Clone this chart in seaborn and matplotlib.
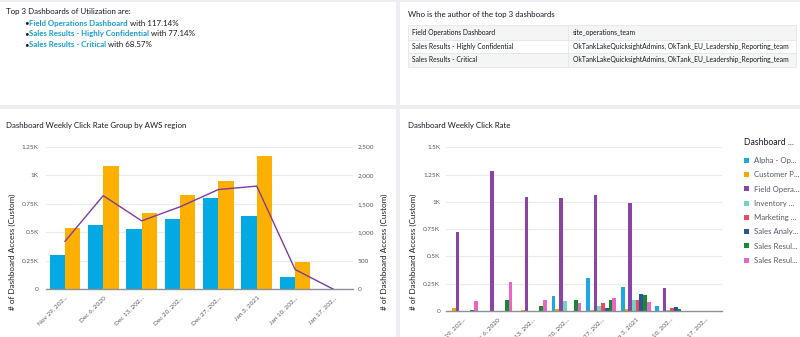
import numpy as np
import pandas as pd
import matplotlib
matplotlib.use("Agg")
import matplotlib.pyplot as plt
from matplotlib.patches import Rectangle
from matplotlib.ticker import FixedLocator
import seaborn as sns

# ---------------------------------------------------------------- data
weeks = ["Nov 29, 202...", "Dec 6, 2020", "Dec 13, 202...", "Dec 20, 202...",
         "Dec 27, 202...", "Jan 3, 2021", "Jan 10, 202...", "Jan 17, 202..."]

# weekly clicks per AWS region (left axis) and combined total (right axis)
region_names = ["us-east-1", "eu-west-1"]
region_east = [300, 561, 529, 619, 800, 640, 105, 0]
region_west = [540, 1081, 671, 827, 949, 1169, 242, 0]
region_total = [840, 1642, 1200, 1446, 1749, 1809, 347, 0]

# weekly clicks per dashboard
dashboard_names = ["Alpha - Operations", "Customer Portal", "Field Operations Dashboard",
                   "Inventory Tracking", "Marketing Overview", "Sales Analytics",
                   "Sales Results - Highly Confidential", "Sales Results - Critical"]
dashboard_labels = ["Alpha - Op...", "Customer P...", "Field Opera...", "Inventory ...",
                    "Marketing ...", "Sales Analy...", "Sales Resul...", "Sales Resul..."]
alpha_ops = [0, 0, 0, 134, 302, 221, 43, 0]
customer_portal = [28, 0, 9, 15, 9, 19, 0, 0]
field_ops = [721, 1280, 1045, 1035, 1063, 990, 215, 0]
inventory = [0, 0, 0, 89, 46, 101, 6, 0]
marketing = [0, 0, 0, 0, 70, 101, 28, 0]
sales_analytics = [0, 0, 0, 0, 31, 157, 33, 0]
sales_confidential = [12, 101, 46, 101, 101, 145, 21, 0]
sales_critical = [89, 266, 98, 77, 119, 78, 0, 0]
dashboard_series = [alpha_ops, customer_portal, field_ops, inventory,
                    marketing, sales_analytics, sales_confidential, sales_critical]

top3_names = ["Field Operations Dashboard", "Sales Results - Highly Confidential",
              "Sales Results - Critical"]
top3_util = ["117.14%", "77.14%", "68.57%"]
authors = ["site_operations_team",
           "OkTankLakeQuicksightAdmins, OkTank_EU_Leadership_Reporting_team",
           "OkTankLakeQuicksightAdmins, OkTank_EU_Leadership_Reporting_team"]

# ---------------------------------------------------------------- style
sns.set_style("white")
plt.rcParams["font.family"] = ["Lato", "DejaVu Sans"]

W, H = 800, 337
fig = plt.figure(figsize=(W / 100, H / 100), dpi=100)
fig.patch.set_facecolor("#eceef1")

TEXT = "#16191f"
TICK = "#545b64"
GRID = "#e9ebed"
LINK = "#1a9bd0"


def px_axes(x0, y0, x1, y1):
    """Add axes given a pixel box measured from the top-left corner."""
    return fig.add_axes([x0 / W, 1 - y1 / H, (x1 - x0) / W, (y1 - y0) / H])


# background canvas (1 unit = 1 pixel) with white panels
bg = fig.add_axes([0, 0, 1, 1])
bg.set_xlim(0, W)
bg.set_ylim(H, 0)
bg.axis("off")
for (x0, y0, x1, y1) in [(0, 1.5, 396, 105), (400, 1.5, 800, 105),
                         (0, 109, 396, 337), (400, 109, 800, 337)]:
    bg.add_patch(Rectangle((x0, y0), x1 - x0, y1 - y0, facecolor="white", edgecolor="none"))

renderer = fig.canvas.get_renderer()

# ---------------------------------------------------------------- top-left text
fs_txt = 5.7
bg.text(6, 14.2, "Top 3 Dashboards of Utilization are:", fontsize=fs_txt, color=TEXT, va="baseline")
for i, (name, util) in enumerate(zip(top3_names, top3_util)):
    base = 25.6 + i * 10.7
    bg.text(24.5, base, "\u2022", fontsize=fs_txt, color=TEXT, va="baseline")
    t = bg.text(29, base, name, fontsize=fs_txt, color=LINK, fontweight="bold", va="baseline")
    width = t.get_window_extent(renderer).width
    bg.text(29 + width, base, " with " + util, fontsize=fs_txt, color=TEXT, va="baseline")

# ---------------------------------------------------------------- top-right table
bg.text(408, 15, "Who is the author of the top 3 dashboards", fontsize=fs_txt, color=TEXT, va="center")
row_edges = [25, 39.5, 53, 66.5]
for i, (name, author) in enumerate(zip(top3_names, authors)):
    ya, yb = row_edges[i], row_edges[i + 1]
    fc = "#f4f5f5" if i % 2 == 0 else "white"
    bg.add_patch(Rectangle((407.5, ya), 388, yb - ya, facecolor=fc, edgecolor="#e4e6e8", lw=0.6))
    bg.plot([567.7, 567.7], [ya, yb], color="#e4e6e8", lw=0.6)
    bg.text(412.3, (ya + yb) / 2, name, fontsize=4.9, color=TEXT, va="center")
    bg.text(572.7, (ya + yb) / 2, author, fontsize=4.9, color=TEXT, va="center")

# ---------------------------------------------------------------- chart titles
bg.text(6, 125.7, "Dashboard Weekly Click Rate Group by AWS region", fontsize=fs_txt, color=TEXT, va="center")
bg.text(408, 125.7, "Dashboard Weekly Click Rate", fontsize=fs_txt, color=TEXT, va="center")


def style_axes(ax, ymax, step, labels, label_pad):
    ax.set_ylim(0, ymax)
    ax.set_yticks(np.arange(0, ymax + 1, step))
    ax.set_yticklabels(labels)
    ax.grid(axis="y", color=GRID, lw=0.8)
    ax.grid(axis="x", visible=False)
    ax.set_axisbelow(True)
    for s in ["top", "left", "right"]:
        ax.spines[s].set_visible(False)
    ax.spines["bottom"].set_color("#8d9096")
    ax.spines["bottom"].set_linewidth(1.0)
    ax.tick_params(axis="y", length=0, labelsize=4.6, labelcolor=TICK, pad=label_pad)
    ax.set_xlim(-0.5, len(weeks) - 0.5)
    ax.set_xticks(range(len(weeks)))
    ax.set_xticklabels(weeks, rotation=45, ha="right", rotation_mode="anchor")
    ax.tick_params(axis="x", which="major", length=0, labelsize=4.6, labelcolor=TICK, pad=4)
    ax.xaxis.set_minor_locator(FixedLocator(np.arange(-0.5, len(weeks), 1.0)))
    ax.tick_params(axis="x", which="minor", length=3, width=0.8, color="#8d9096", direction="out")
    ax.set_xlabel("")


LABEL_FS = 5.9

# ---------------------------------------------------------------- left chart
region_df = pd.DataFrame({
    "week": weeks * 2,
    "region": [region_names[0]] * len(weeks) + [region_names[1]] * len(weeks),
    "clicks": region_east + region_west,
})
axL = px_axes(45.7, 146.7, 352.7, 289.3)
sns.barplot(data=region_df, x="week", y="clicks", hue="region", order=weeks,
            hue_order=region_names, palette=["#03a9e2", "#feb000"], width=0.8,
            saturation=1, errorbar=None, legend=False, linewidth=0, ax=axL)
style_axes(axL, 1250, 250, ["0", "0.25K", "0.5K", "0.75K", "1K", "1.25K"], 5)
axL.set_ylabel("# of Dashboard Access (Custom)", fontsize=LABEL_FS, color=TEXT)
axL.yaxis.set_label_coords(-0.097, 0.26)

axL2 = axL.twinx()
axL2.plot(np.arange(len(weeks)), region_total, color="#7d3d9c", lw=1.0)
axL2.set_ylim(0, 2500)
axL2.set_yticks(np.arange(0, 2501, 500))
axL2.set_yticklabels(["0", "500", "1,000", "1,500", "2,000", "2,500"])
axL2.tick_params(axis="y", length=0, labelsize=4.6, labelcolor=TICK, pad=3.5)
for s in axL2.spines.values():
    s.set_visible(False)
axL2.set_ylabel("# of Dashboard Access (Custom)", fontsize=LABEL_FS, color=TEXT, rotation=90)
axL2.yaxis.set_label_coords(1.092, 0.26)

# ---------------------------------------------------------------- right chart
dash_df = pd.DataFrame({
    "week": weeks * len(dashboard_names),
    "dashboard": [n for n in dashboard_names for _ in weeks],
    "clicks": [v for series in dashboard_series for v in series],
})
dash_palette = ["#1ea7e1", "#f7a800", "#8a44a8", "#6fd5bd",
                "#ea4a5d", "#2b5597", "#168a2e", "#ec64c4"]
axR = px_axes(445.7, 147.3, 722, 311)
sns.barplot(data=dash_df, x="week", y="clicks", hue="dashboard", order=weeks,
            hue_order=dashboard_names, palette=dash_palette, width=0.86,
            saturation=1, errorbar=None, linewidth=0, ax=axR)
style_axes(axR, 1500, 250, ["0", "0.25K", "0.5K", "0.75K", "1K", "1.25K", "1.5K"], 4)
axR.set_ylabel("# of Dashboard Access (Custom)", fontsize=LABEL_FS, color=TEXT)
axR.yaxis.set_label_coords(-0.104, 0.363)

handles, _ = axR.get_legend_handles_labels()
axR.get_legend().remove()
leg = axR.legend(handles, dashboard_labels, title="Dashboard ...", loc="upper left",
                 bbox_to_anchor=(744 / W, 1 - 137.5 / H), bbox_transform=fig.transFigure,
                 frameon=False, fontsize=5.6, title_fontsize=6.2, handlelength=0.6,
                 handleheight=0.6, handletextpad=0.7, labelspacing=0.93,
                 borderpad=0, borderaxespad=0, alignment="left")
leg._legend_box.sep = 7.7
leg.get_title().set_color(TEXT)
for t in leg.get_texts():
    t.set_color("#545b64")

fig.savefig("out.png", dpi=100, facecolor=fig.get_facecolor())
